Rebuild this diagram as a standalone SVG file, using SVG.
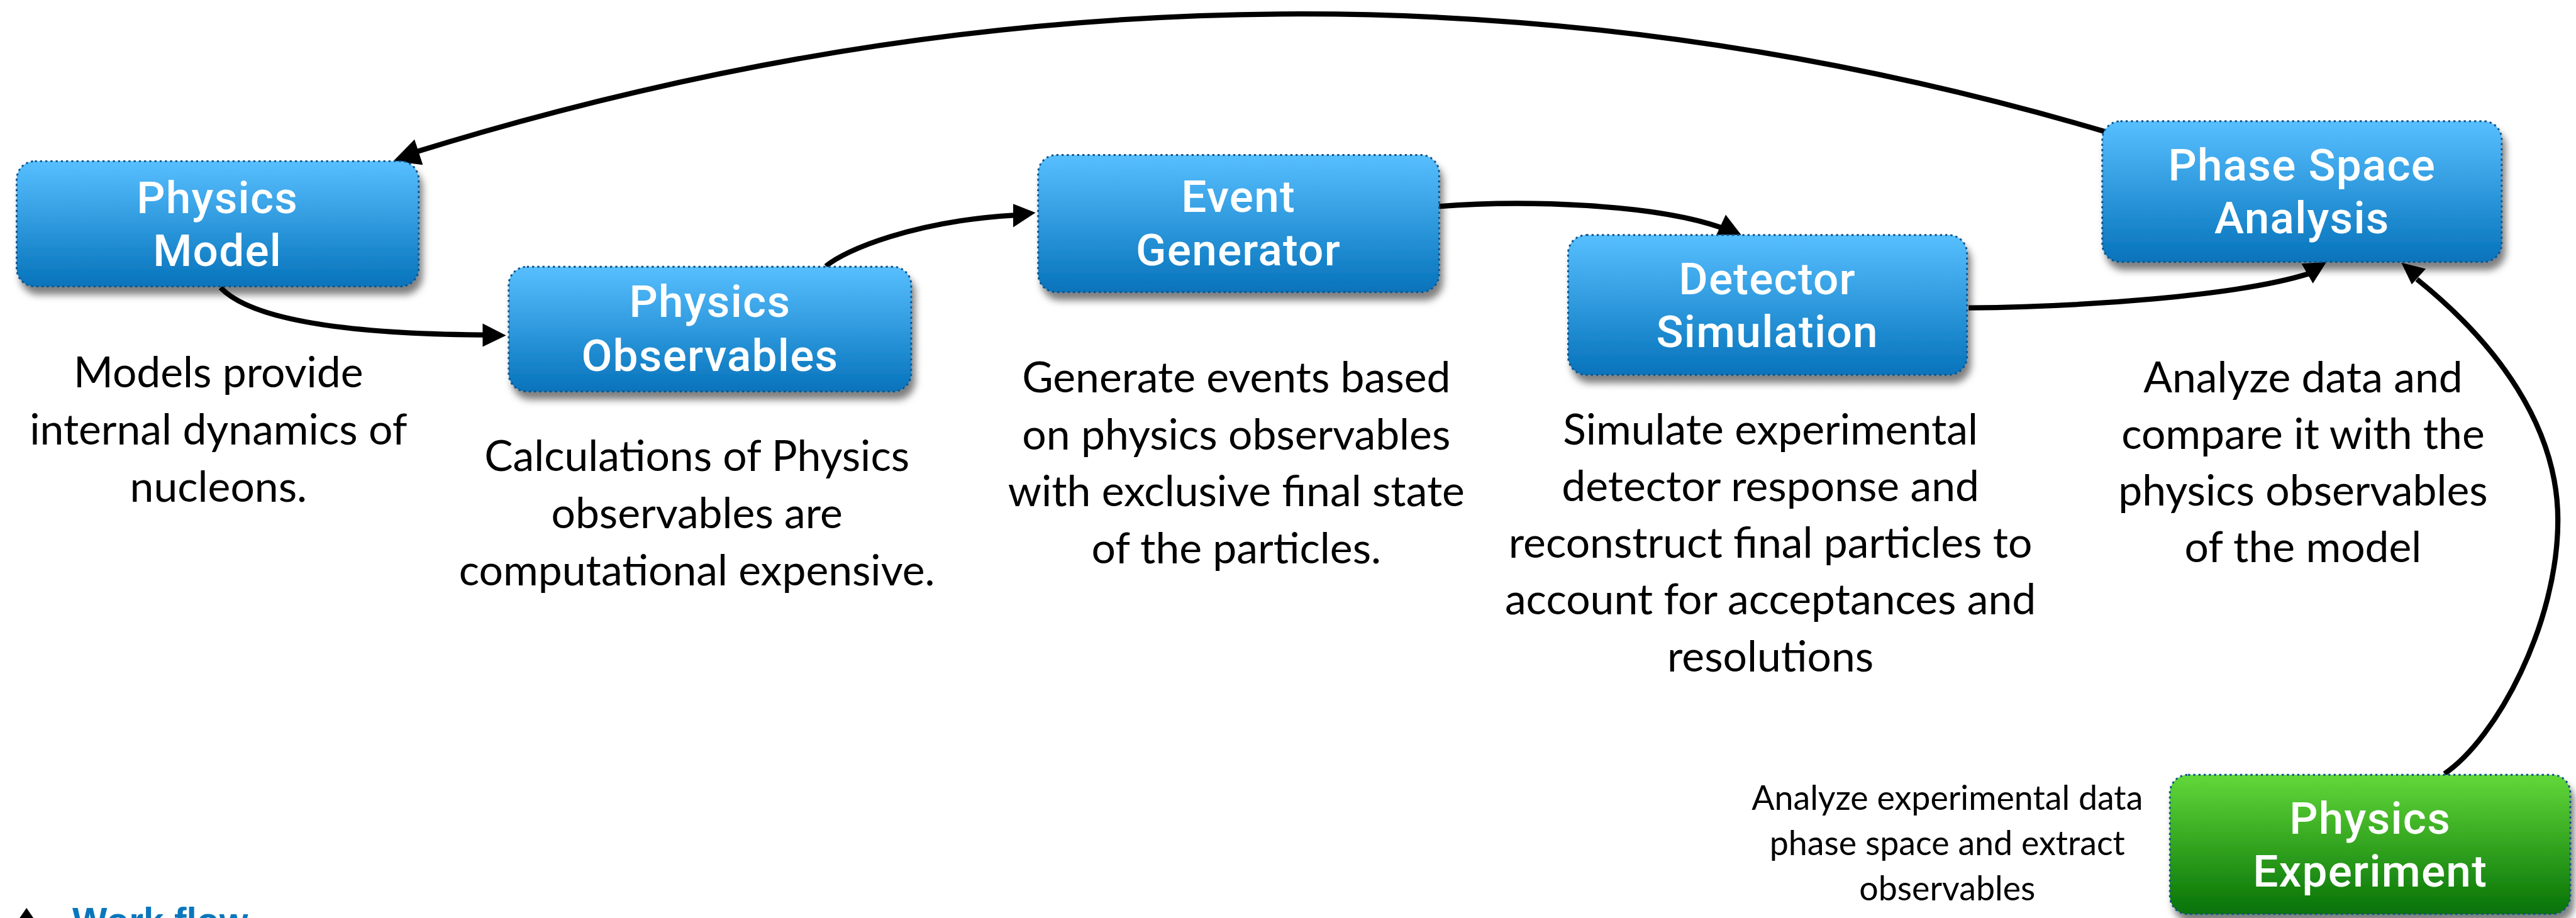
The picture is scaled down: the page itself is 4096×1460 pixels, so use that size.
<svg xmlns="http://www.w3.org/2000/svg" width="4096" height="1460" viewBox="0 0 4096 1460">
<style>
.box{stroke:#0e5189;stroke-width:3.5;stroke-dasharray:4 6;filter:url(#shadow)}
.blue{fill:url(#gBlue)}
.green{fill:url(#gGreen)}
.title{font-family:Roboto,"Liberation Sans",sans-serif;font-weight:500;font-size:86px;letter-spacing:1.5px;fill:#ffffff;text-anchor:middle}
.desc{font-family:Lato,"Noto Sans","Liberation Sans",sans-serif;font-weight:400;font-size:82px;fill:#000000;text-anchor:middle}
.small{font-size:65px}
.line{fill:none;stroke:#000000;stroke-width:10}
.head{fill:#000000}
.wf{font-family:"Liberation Sans",Arial,sans-serif;font-weight:bold;font-size:71px;fill:#0a77bd}
</style>
<defs>
<linearGradient id="gBlue" x1="0" y1="0" x2="0" y2="1">
<stop offset="0" stop-color="#57bfff"/>
<stop offset="1" stop-color="#0673bb"/>
</linearGradient>
<linearGradient id="gGreen" x1="0" y1="0" x2="0" y2="1">
<stop offset="0" stop-color="#62d83a"/>
<stop offset="1" stop-color="#067206"/>
</linearGradient>
<filter id="shadow" x="-10%" y="-10%" width="125%" height="135%">
<feDropShadow dx="7" dy="15" stdDeviation="7" flood-color="#000000" flood-opacity="0.5"/>
</filter>
</defs>
<rect width="4096" height="1460" fill="#ffffff"/>
<g transform="scale(0.827)">
<g id="connectors">
<path class="line" d="M4047,253 Q2450,-218 800,292"/>
<polygon class="head" points="756,310 797,268 813,317"/>
<path class="line" d="M424,553 C480,612 650,642 930,644"/>
<polygon class="head" points="973,645 928,622 928,667"/>
<path class="line" d="M1588,512 C1625,480 1760,425 1950,414"/>
<polygon class="head" points="1991,409 1948,392 1948,437"/>
<path class="line" d="M2764,397 C2930,384 3180,392 3310,438"/>
<polygon class="head" points="3318,413 3300,452 3348,452"/>
<path class="line" d="M3785,592 C4000,590 4300,570 4440,526"/>
<polygon class="head" points="4425,507 4473,504 4447,545"/>
<path class="line" d="M4700,1488 C4800,1420 4918,1200 4918,1000 C4918,820 4800,660 4647,537"/>
<polygon class="head" points="4617,505 4637,547 4664,517"/>
</g>
<g id="physics-model">
<rect class="box blue" x="32" y="310" width="773" height="241" rx="35"/>
<text class="title" x="418" y="410">Physics</text>
<text class="title" x="418" y="512">Model</text>
</g>
<g id="physics-observables">
<rect class="box blue" x="978" y="513" width="774" height="240" rx="35"/>
<text class="title" x="1365" y="610">Physics</text>
<text class="title" x="1365" y="713">Observables</text>
</g>
<g id="event-generator">
<rect class="box blue" x="1996" y="298" width="771" height="264" rx="35"/>
<text class="title" x="2381" y="408">Event</text>
<text class="title" x="2381" y="510">Generator</text>
</g>
<g id="detector-simulation">
<rect class="box blue" x="3015" y="452" width="767" height="269" rx="35"/>
<text class="title" x="3398" y="566">Detector</text>
<text class="title" x="3398" y="668">Simulation</text>
</g>
<g id="phase-space-analysis">
<rect class="box blue" x="4042" y="233" width="768" height="271" rx="35"/>
<text class="title" x="4426" y="347">Phase Space</text>
<text class="title" x="4426" y="449">Analysis</text>
</g>
<g id="physics-experiment">
<rect class="box green" x="4172" y="1490" width="770" height="268" rx="35"/>
<text class="title" x="4557" y="1603">Physics</text>
<text class="title" x="4557" y="1705">Experiment</text>
</g>
<g id="desc-model">
<text class="desc" x="420" y="745">Models provide</text>
<text class="desc" x="420" y="855">internal dynamics of</text>
<text class="desc" x="420" y="965">nucleons.</text>
</g>
<g id="desc-observables">
<text class="desc" x="1340" y="906">Calculations of Physics</text>
<text class="desc" x="1340" y="1016">observables are</text>
<text class="desc" x="1340" y="1126">computational expensive.</text>
</g>
<g id="desc-generator">
<text class="desc" x="2377" y="754">Generate events based</text>
<text class="desc" x="2377" y="864">on physics observables</text>
<text class="desc" x="2377" y="974">with exclusive final state</text>
<text class="desc" x="2377" y="1084">of the particles.</text>
</g>
<g id="desc-detector">
<text class="desc" x="3404" y="855">Simulate experimental</text>
<text class="desc" x="3404" y="964">detector response and</text>
<text class="desc" x="3404" y="1073">reconstruct final particles to</text>
<text class="desc" x="3404" y="1182">account for acceptances and</text>
<text class="desc" x="3404" y="1291">resolutions</text>
</g>
<g id="desc-analysis">
<text class="desc" x="4428" y="754">Analyze data and</text>
<text class="desc" x="4428" y="863">compare it with the</text>
<text class="desc" x="4428" y="972">physics observables</text>
<text class="desc" x="4428" y="1081">of the model</text>
</g>
<g id="desc-experiment">
<text class="desc small" x="3744" y="1557">Analyze experimental data</text>
<text class="desc small" x="3744" y="1645">phase space and extract</text>
<text class="desc small" x="3744" y="1732">observables</text>
</g>
<g id="workflow-title">
<polygon points="51,1746 36,1768 66,1768" fill="#000000"/>
<text class="wf" x="139" y="1796">Work flow</text>
</g>
</g>
</svg>
